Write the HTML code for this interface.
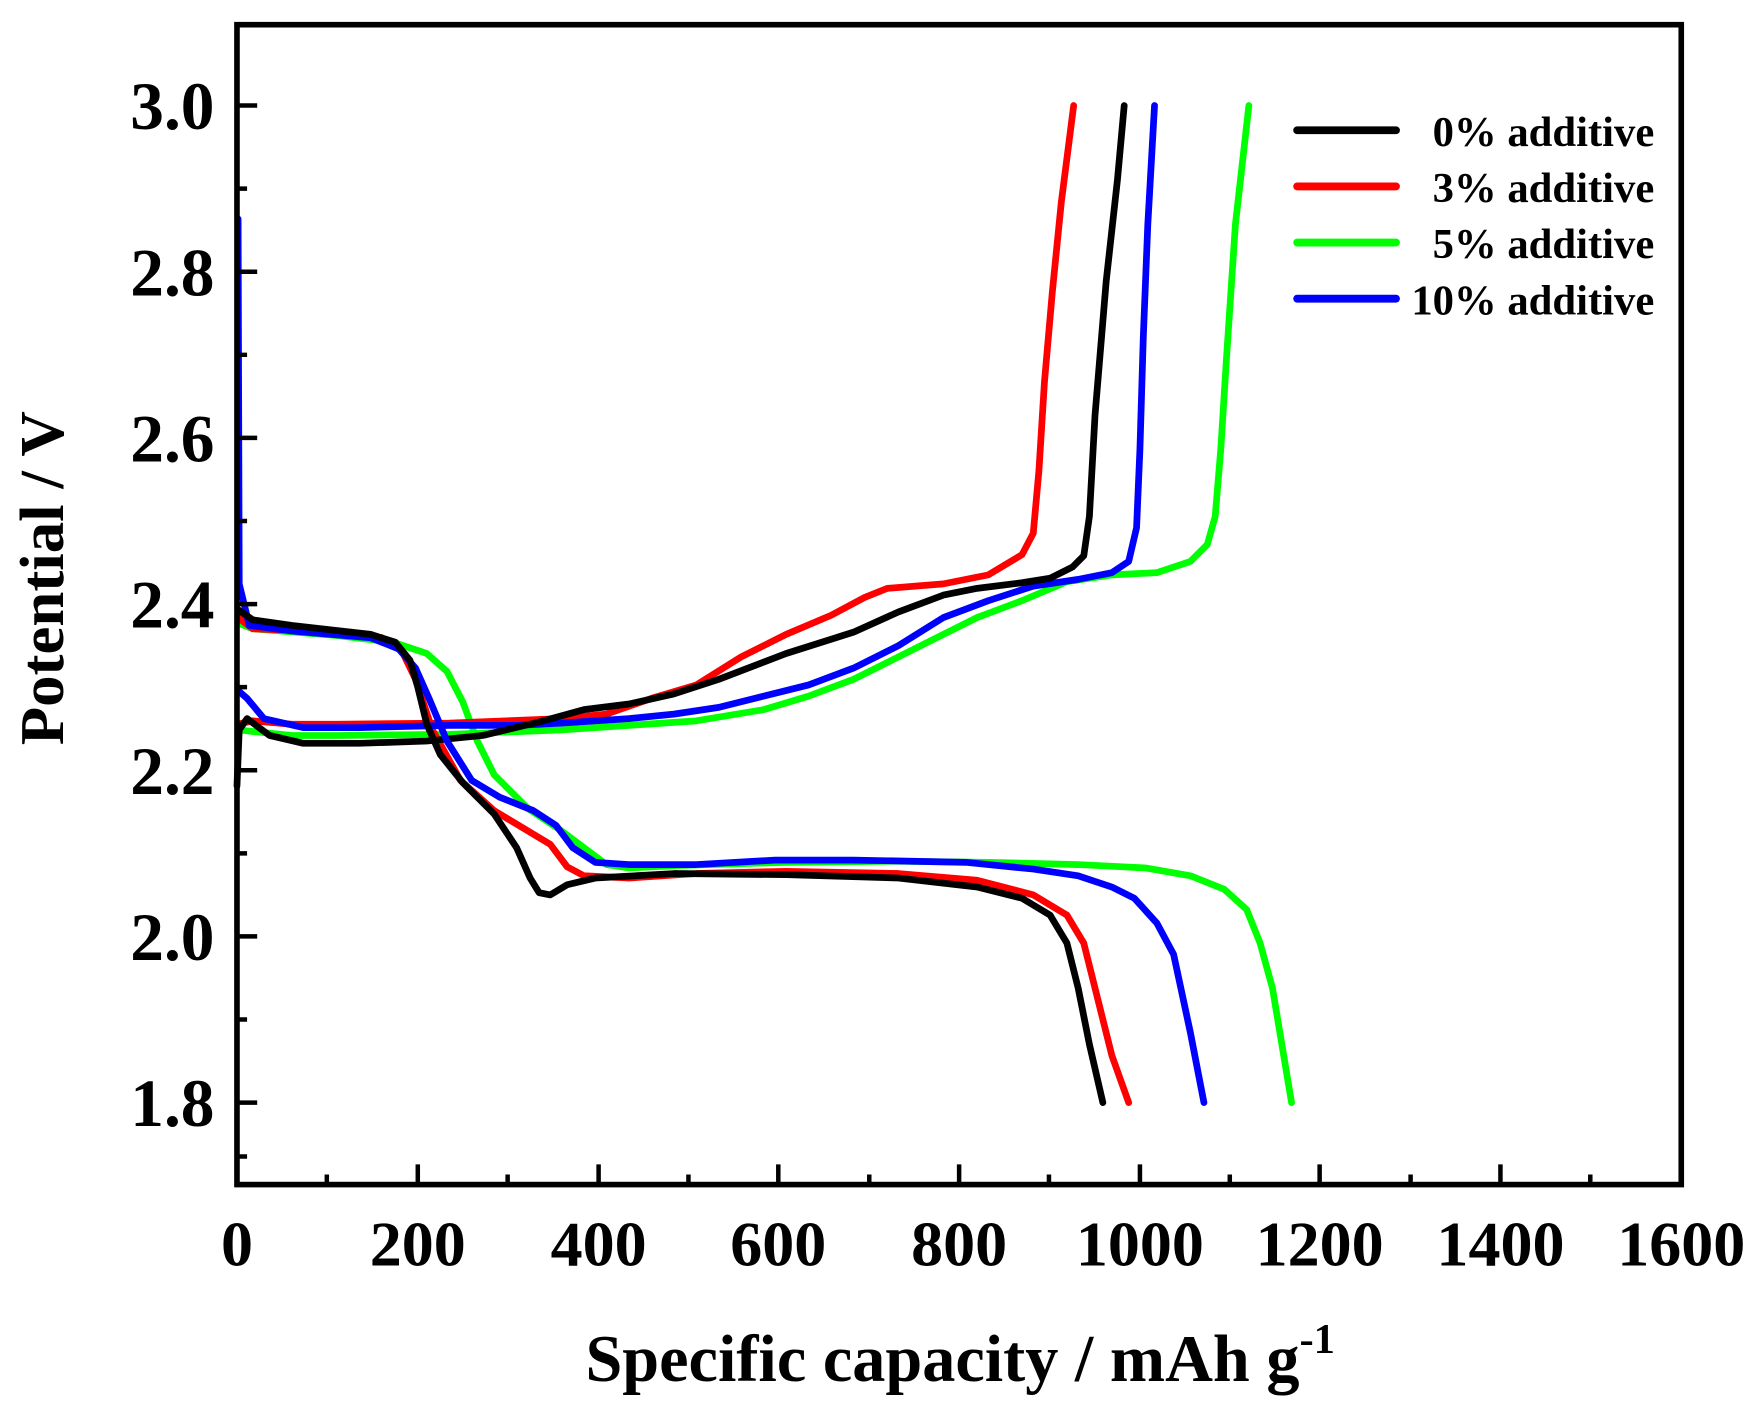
<!DOCTYPE html>
<html><head><meta charset="utf-8"><style>html,body{margin:0;padding:0;background:#fff}svg{display:block}</style></head>
<body>
<svg width="1761" height="1417" viewBox="0 0 1568 1262" preserveAspectRatio="none" xmlns="http://www.w3.org/2000/svg">
<rect width="1568" height="1262" fill="#fff"/>
<g font-family="Liberation Serif, serif" font-weight="bold" fill="#000">
<g font-size="60" text-anchor="end">
<text x="191" y="115">3.0</text>
<text x="191" y="263">2.8</text>
<text x="191" y="411">2.6</text>
<text x="191" y="559">2.4</text>
<text x="191" y="707">2.2</text>
<text x="191" y="855">2.0</text>
<text x="191" y="1003">1.8</text>
</g>
<g font-size="57" text-anchor="middle">
<text x="211" y="1127">0</text>
<text x="372" y="1127">200</text>
<text x="533" y="1127">400</text>
<text x="693" y="1127">600</text>
<text x="854" y="1127">800</text>
<text x="1015" y="1127">1000</text>
<text x="1175" y="1127">1200</text>
<text x="1336" y="1127">1400</text>
<text x="1497" y="1127">1600</text>
</g>
<text x="855" y="1230" font-size="59" text-anchor="middle">Specific capacity / mAh g<tspan font-size="38" dy="-25">-1</tspan></text>
<text transform="translate(56,515) rotate(-90)" font-size="56" text-anchor="middle">Potential / V</text>
<g font-size="38" text-anchor="end">
<text x="1473" y="130">0% additive</text>
<text x="1473" y="180">3% additive</text>
<text x="1473" y="230">5% additive</text>
<text x="1473" y="280">10% additive</text>
</g>
</g>
<g stroke-width="7" stroke-linecap="round">
<line x1="1155" y1="116" x2="1243" y2="116" stroke="#000"/>
<line x1="1155" y1="166" x2="1243" y2="166" stroke="#f00"/>
<line x1="1155" y1="216" x2="1243" y2="216" stroke="#0f0"/>
<line x1="1155" y1="266" x2="1243" y2="266" stroke="#00f"/>
</g>
<g fill="none" stroke-width="6" stroke-linejoin="round" stroke-linecap="round">
<polyline stroke="#0f0" points="212,555 225,560 300,566 350,572 380,582 398,598 412,625 425,660 440,690 470,720 500,740 520,755 540,770 560,773 600,771 700,768 800,767 880,768 960,770 1020,773 1060,780 1090,792 1110,810 1122,840 1133,880 1150,982"/>
<polyline stroke="#0f0" points="212,650 230,652 260,655 300,655 400,654 500,650 560,646 620,642 680,632 720,620 760,605 800,585 840,565 870,550 910,535 950,518 990,512 1030,510 1060,500 1075,485 1082,460 1087,400 1092,320 1100,200 1112,94"/>
<polyline stroke="#f00" points="212,550 225,560 300,563 340,568 358,580 370,605 385,650 410,695 440,722 470,740 490,752 505,772 520,780 560,782 620,778 700,776 800,778 870,784 920,797 950,815 965,840 975,880 990,940 1005,982"/>
<polyline stroke="#f00" points="212,645 225,642 260,645 300,645 400,644 500,640 540,636 580,622 620,610 660,585 700,565 740,548 770,532 790,524 840,520 880,512 910,494 920,475 925,420 930,340 937,260 945,180 956,94"/>
<polyline stroke="#00f" points="212,615 220,622 235,640 270,648 320,648 400,646 460,646 500,644 560,640 600,636 640,630 680,620 720,610 760,595 800,575 840,550 880,535 920,522 960,516 990,510 1005,500 1012,470 1015,400 1018,300 1022,200 1028,94"/>
<polyline stroke="#000" points="211,700 213,650 220,640 240,655 270,662 320,662 380,660 430,655 480,643 520,632 560,627 600,618 640,605 700,582 760,563 800,545 840,530 870,524 910,519 935,515 955,505 965,495 970,460 975,370 985,250 995,160 1001,94"/>
<polyline stroke="#00f" points="212,195 213,520 222,557 260,562 330,568 355,578 370,595 382,622 398,660 420,695 445,710 475,722 495,735 510,755 530,768 560,770 620,770 690,766 760,766 860,768 920,774 960,780 990,790 1010,800 1030,822 1045,850 1060,920 1072,982"/>
<polyline stroke="#000" points="212,543 225,552 260,557 330,565 352,572 365,588 372,612 380,645 392,672 412,697 440,725 460,755 472,782 480,795 490,797 505,788 530,782 600,778 700,779 800,782 870,790 910,800 935,815 950,840 960,880 970,930 982,982"/>
</g>
<rect x="211" y="22" width="1286" height="1033" fill="none" stroke="#000" stroke-width="5"/>
<g stroke="#000" stroke-width="4">
<path d="M211,94h18M211,242h18M211,390h18M211,538h18M211,686h18M211,834h18M211,982h18M211,168h9M211,316h9M211,464h9M211,612h9M211,760h9M211,908h9M211,1030h9"/>
<path d="M372,1055v-18M533,1055v-18M693,1055v-18M854,1055v-18M1015,1055v-18M1175,1055v-18M1336,1055v-18M291,1055v-9M452,1055v-9M613,1055v-9M774,1055v-9M934,1055v-9M1095,1055v-9M1256,1055v-9M1416,1055v-9"/>
</g>
</svg>
</body></html>
